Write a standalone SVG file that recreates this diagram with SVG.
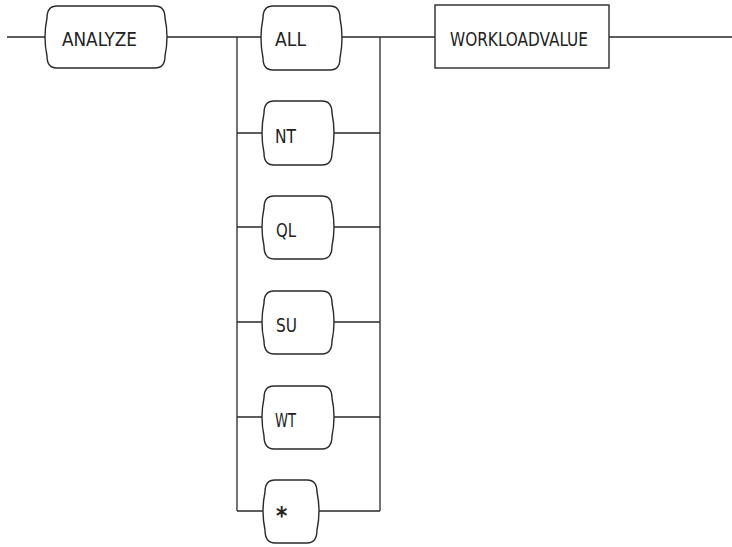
<svg xmlns="http://www.w3.org/2000/svg" width="732" height="547" viewBox="0 0 732 547">
<style>
.bg{fill:#ffffff}
.shape{fill:#ffffff;stroke:#2a2a2a;stroke-width:1.4}
.line{fill:none;stroke:#2a2a2a;stroke-width:1.3}
.lbl{font-family:"DejaVu Sans Condensed","Liberation Sans",sans-serif;font-size:20px;fill:#222222}
</style>
<rect class="bg" x="0" y="0" width="732" height="547"/>
<g id="connectors">
<path class="line" d="M7 37 H45 M167 37 H261 M342 37 H435 M609 37 H732"/>
<path class="line" d="M237 37 V511 M380 37 V511"/>
<path class="line" d="M237 133 H262 M334 133 H380"/>
<path class="line" d="M237 227 H262 M334 227 H380"/>
<path class="line" d="M237 322 H262 M334 322 H380"/>
<path class="line" d="M237 417 H262 M334 417 H380"/>
<path class="line" d="M237 511 H263 M319 511 H380"/>
</g>
<g id="node-analyze">
<path class="shape" d="M57 6 H155 Q165 6 165 18 Q169 37 165 56 Q165 68 155 68 H57 Q47 68 47 56 Q43 37 47 18 Q47 6 57 6 Z"/>
<text class="lbl" x="62" y="46" textLength="75" lengthAdjust="spacingAndGlyphs">ANALYZE</text>
</g>
<g id="node-all">
<path class="shape" d="M273 6 H330 Q340 6 340 18 Q344 38 340 58 Q340 70 330 70 H273 Q263 70 263 58 Q259 38 263 18 Q263 6 273 6 Z"/>
<text class="lbl" x="275" y="46" textLength="31" lengthAdjust="spacingAndGlyphs">ALL</text>
</g>
<g id="node-nt">
<path class="shape" d="M274 101 H322 Q332 101 332 113 Q336 133 332 153 Q332 165 322 165 H274 Q264 165 264 153 Q260 133 264 113 Q264 101 274 101 Z"/>
<text class="lbl" x="275" y="143" textLength="21" lengthAdjust="spacingAndGlyphs">NT</text>
</g>
<g id="node-ql">
<path class="shape" d="M274 196 H322 Q332 196 332 208 Q336 227 332 246 Q332 259 322 259 H274 Q264 259 264 246 Q260 227 264 208 Q264 196 274 196 Z"/>
<text class="lbl" x="276" y="237" textLength="20" lengthAdjust="spacingAndGlyphs">QL</text>
</g>
<g id="node-su">
<path class="shape" d="M274 291 H322 Q332 291 332 303 Q336 322 332 341 Q332 354 322 354 H274 Q264 354 264 341 Q260 322 264 303 Q264 291 274 291 Z"/>
<text class="lbl" x="276" y="332" textLength="21" lengthAdjust="spacingAndGlyphs">SU</text>
</g>
<g id="node-wt">
<path class="shape" d="M274 386 H322 Q332 386 332 398 Q336 417 332 436 Q332 449 322 449 H274 Q264 449 264 436 Q260 417 264 398 Q264 386 274 386 Z"/>
<text class="lbl" x="275" y="427" textLength="21" lengthAdjust="spacingAndGlyphs">WT</text>
</g>
<g id="node-star">
<path class="shape" d="M275 480 H307 Q317 480 317 492 Q321 511 317 530 Q317 543 307 543 H275 Q265 543 265 530 Q261 511 265 492 Q265 480 275 480 Z"/>
<text class="lbl" x="276" y="524" style="font-size:24px;font-weight:bold">*</text>
</g>
<g id="node-workloadvalue">
<rect class="shape" x="435" y="5" width="174" height="63"/>
<text class="lbl" x="450" y="46" textLength="138" lengthAdjust="spacingAndGlyphs">WORKLOADVALUE</text>
</g>
</svg>
